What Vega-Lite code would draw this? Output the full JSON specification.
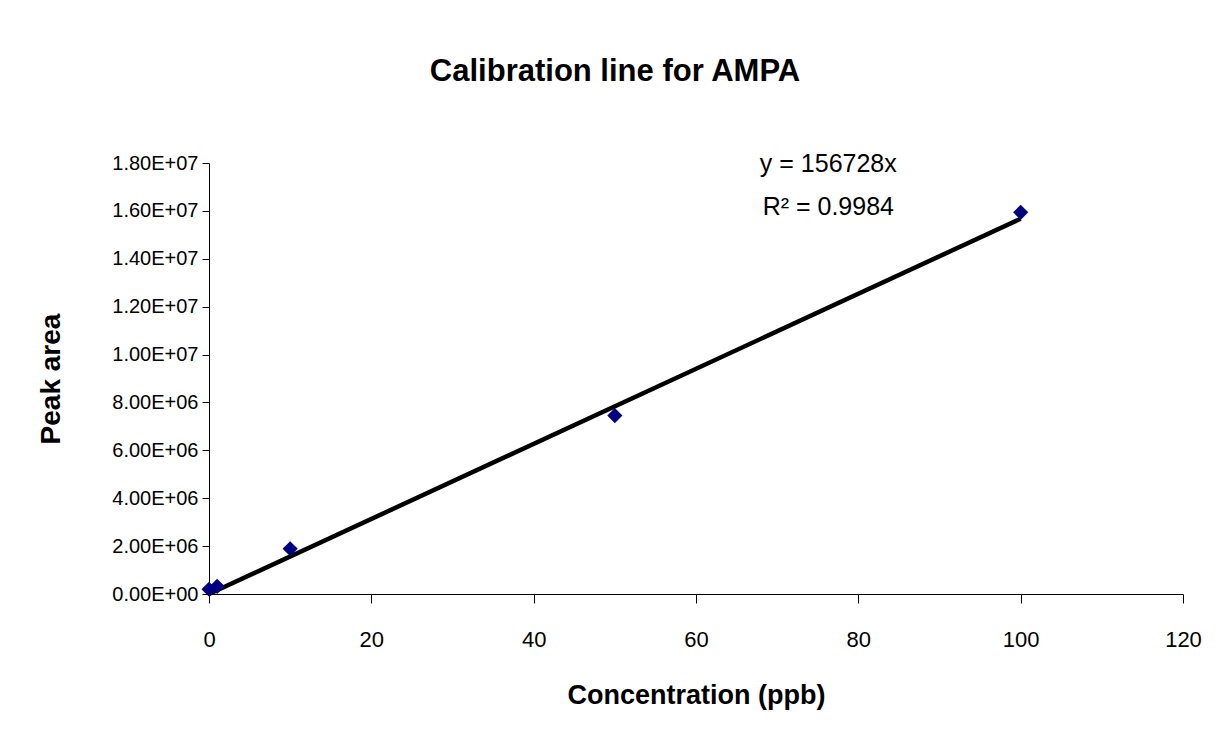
{
  "$schema": "https://vega.github.io/schema/vega-lite/v6.json",
  "autosize": "none",
  "width": 974,
  "height": 431,
  "padding": {"left": 209, "top": 163, "right": 40, "bottom": 153},
  "background": "white",
  "config": {
    "view": {"stroke": null},
    "font": "Liberation Sans",
    "axis": {"grid": false, "domainColor": "black", "tickColor": "black", "labelColor": "black", "titleColor": "black", "labelFont": "Liberation Sans", "titleFont": "Liberation Sans"}
  },
  "title": {
    "text": "Calibration line for AMPA",
    "font": "Liberation Sans",
    "fontSize": 31,
    "fontWeight": "bold",
    "color": "black",
    "anchor": "middle",
    "frame": "group",
    "dx": -81,
    "baseline": "alphabetic",
    "offset": 40
  },
  "datasets": {
    "points": [
      {"conc": 0, "area": 200000},
      {"conc": 1, "area": 320000},
      {"conc": 10, "area": 1890000},
      {"conc": 50, "area": 7450000},
      {"conc": 100, "area": 15940000}
    ],
    "trend": [
      {"conc": 0, "area": 0},
      {"conc": 100, "area": 15672800}
    ],
    "labels": [
      {"conc": 76.3, "area": 17960000, "label": "y = 156728x"},
      {"conc": 76.3, "area": 16175000, "label": "R² = 0.9984"}
    ]
  },
  "layer": [
    {
      "data": {"name": "trend"},
      "mark": {"type": "line", "color": "black", "strokeWidth": 4.5},
      "encoding": {
        "x": {
          "field": "conc", "type": "quantitative",
          "scale": {"domain": [0, 120], "nice": false},
          "axis": {
            "title": "Concentration (ppb)",
            "values": [0, 20, 40, 60, 80, 100, 120],
            "labelFlush": false,
            "labelFontSize": 22,
            "labelPadding": 26,
            "tickSize": 9,
            "titleFontSize": 27,
            "titleFontWeight": "bold",
            "titlePadding": 32
          }
        },
        "y": {
          "field": "area", "type": "quantitative",
          "scale": {"domain": [0, 18000000], "nice": false},
          "axis": {
            "title": "Peak area",
            "values": [0, 2000000, 4000000, 6000000, 8000000, 10000000, 12000000, 14000000, 16000000, 18000000],
            "labelExpr": "replace(format(datum.value, '.2e'), 'e+', 'E+0')",
            "labelFlush": false,
            "labelFontSize": 20,
            "labelPadding": 4,
            "tickSize": 7,
            "titleFontSize": 28,
            "titleFontWeight": "bold",
            "titlePadding": 46
          }
        }
      }
    },
    {
      "data": {"name": "points"},
      "mark": {"type": "point", "shape": "diamond", "filled": true, "color": "#000080", "opacity": 1, "size": 230},
      "encoding": {
        "x": {"field": "conc", "type": "quantitative"},
        "y": {"field": "area", "type": "quantitative"}
      }
    },
    {
      "data": {"name": "labels"},
      "mark": {"type": "text", "fontSize": 25, "color": "black", "align": "center", "baseline": "middle", "font": "Liberation Sans"},
      "encoding": {
        "x": {"field": "conc", "type": "quantitative"},
        "y": {"field": "area", "type": "quantitative"},
        "text": {"field": "label"}
      }
    }
  ]
}
